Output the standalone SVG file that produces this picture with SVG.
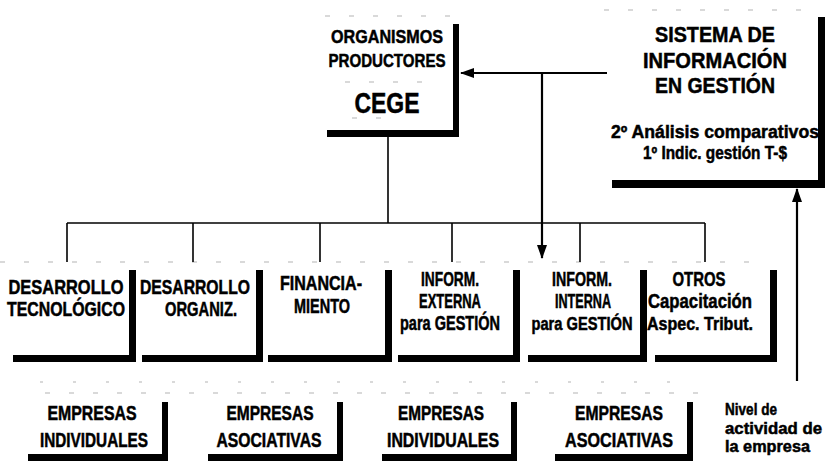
<svg xmlns="http://www.w3.org/2000/svg" width="830" height="461" viewBox="0 0 830 461">
<style>
text{font-family:"Liberation Sans",Arial,sans-serif;font-weight:bold;fill:#000;stroke:#000;stroke-width:0.5;text-anchor:middle}
.l{text-anchor:start}
.bar{fill:#000}
.ln{stroke:#000;stroke-width:1.6;fill:none}
.arr{stroke:#000;stroke-width:2.2;fill:none}
.faint{stroke:#b4b4b4;stroke-width:1.2;stroke-dasharray:5 19;fill:none}
.s19{font-size:19px}
.s30{font-size:29px}
.s25{font-size:22.5px}
.s18{font-size:18px}
.s21{font-size:19.5px}
.s16{font-size:16.5px}
</style>
<defs>
<marker id="ah" viewBox="0 0 14 10" refX="13" refY="5" markerWidth="14" markerHeight="10" orient="auto" markerUnits="userSpaceOnUse">
<path d="M0,0 L14,5 L0,10 z" fill="#000"/>
</marker>
</defs>
<rect width="830" height="461" fill="#fff"/>

<g id="faint-edges">
<line class="faint" x1="325" y1="16" x2="452" y2="16"/>
<line class="faint" x1="345" y1="82" x2="422" y2="82"/>
<line class="faint" x1="352" y1="118" x2="382" y2="118"/>
<line class="faint" x1="604" y1="10" x2="818" y2="10"/>
<line class="faint" x1="0" y1="262" x2="760" y2="262"/>
<line class="faint" x1="40" y1="382" x2="700" y2="382" style="stroke-dasharray:3 30"/>
<line class="faint" x1="45" y1="393" x2="700" y2="393"/>
</g>

<g id="connectors">
<line class="ln" x1="388" y1="137" x2="388" y2="223"/>
<line class="ln" x1="67" y1="223" x2="705" y2="223"/>
<line class="ln" x1="67" y1="223" x2="67" y2="262"/>
<line class="ln" x1="193" y1="223" x2="193" y2="262"/>
<line class="ln" x1="320" y1="223" x2="320" y2="262"/>
<line class="ln" x1="452" y1="223" x2="452" y2="262"/>
<line class="ln" x1="580" y1="223" x2="580" y2="262"/>
<line class="ln" x1="705" y1="223" x2="705" y2="262"/>
<line class="arr" x1="607" y1="73" x2="461" y2="73" marker-end="url(#ah)"/>
<line class="arr" x1="542" y1="73" x2="542" y2="258" marker-end="url(#ah)"/>
<line class="arr" x1="797" y1="381" x2="797" y2="189" marker-end="url(#ah)"/>
</g>

<g id="organismos">
<rect class="bar" x="453" y="24" width="6" height="113"/>
<rect class="bar" x="327" y="130" width="132" height="7"/>
<text class="s19" x="387" y="43" textLength="112" lengthAdjust="spacingAndGlyphs">ORGANISMOS</text>
<text class="s19" x="387" y="67" textLength="117" lengthAdjust="spacingAndGlyphs">PRODUCTORES</text>
<text class="s30" x="387" y="113" textLength="65" lengthAdjust="spacingAndGlyphs">CEGE</text>
</g>

<g id="sig">
<rect class="bar" x="818" y="17" width="7" height="171"/>
<rect class="bar" x="612" y="180" width="213" height="8"/>
<text class="s25" x="715" y="42" textLength="120" lengthAdjust="spacingAndGlyphs">SISTEMA DE</text>
<text class="s25" x="715" y="67.5" textLength="144" lengthAdjust="spacingAndGlyphs">INFORMACIÓN</text>
<text class="s25" x="715" y="93" textLength="120" lengthAdjust="spacingAndGlyphs">EN GESTIÓN</text>
<text class="s18" x="715" y="138" textLength="208" lengthAdjust="spacingAndGlyphs">2º Análisis comparativos</text>
<text class="s18" x="715" y="159" textLength="144" lengthAdjust="spacingAndGlyphs">1º Indic. gestión T-$</text>
</g>

<g id="des-tec">
<rect class="bar" x="129" y="270" width="7" height="92"/>
<rect class="bar" x="13" y="355" width="123" height="7"/>
<text class="s21" x="66" y="294" textLength="115" lengthAdjust="spacingAndGlyphs">DESARROLLO</text>
<text class="s21" x="66" y="316" textLength="118" lengthAdjust="spacingAndGlyphs">TECNOLÓGICO</text>
</g>

<g id="des-org">
<rect class="bar" x="256" y="270" width="7" height="92"/>
<rect class="bar" x="142" y="355" width="121" height="7"/>
<text class="s21" x="195" y="294" textLength="110" lengthAdjust="spacingAndGlyphs">DESARROLLO</text>
<text class="s21" x="201" y="316" textLength="72" lengthAdjust="spacingAndGlyphs">ORGANIZ.</text>
</g>

<g id="financiamiento">
<rect class="bar" x="385" y="270" width="7" height="92"/>
<rect class="bar" x="268" y="355" width="124" height="7"/>
<text class="s21" x="321" y="290" textLength="82" lengthAdjust="spacingAndGlyphs">FINANCIA-</text>
<text class="s21" x="322" y="313" textLength="56" lengthAdjust="spacingAndGlyphs">MIENTO</text>
</g>

<g id="inf-externa">
<rect class="bar" x="513" y="270" width="7" height="92"/>
<rect class="bar" x="398" y="355" width="122" height="7"/>
<text class="s21" x="450" y="286" textLength="58" lengthAdjust="spacingAndGlyphs">INFORM.</text>
<text class="s21" x="450" y="308" textLength="62" lengthAdjust="spacingAndGlyphs">EXTERNA</text>
<text class="s21" x="450" y="330" textLength="100" lengthAdjust="spacingAndGlyphs">para GESTIÓN</text>
</g>

<g id="inf-interna">
<rect class="bar" x="640" y="270" width="7" height="92"/>
<rect class="bar" x="528" y="355" width="119" height="7"/>
<text class="s21" x="582" y="286" textLength="60" lengthAdjust="spacingAndGlyphs">INFORM.</text>
<text class="s21" x="583" y="308" textLength="56" lengthAdjust="spacingAndGlyphs">INTERNA</text>
<text class="s18" x="582" y="330" textLength="101" lengthAdjust="spacingAndGlyphs">para GESTIÓN</text>
</g>

<g id="otros">
<rect class="bar" x="770" y="270" width="7" height="92"/>
<rect class="bar" x="655" y="355" width="122" height="7"/>
<text class="s21" x="699" y="286" textLength="53" lengthAdjust="spacingAndGlyphs">OTROS</text>
<text class="s21" x="700" y="308" textLength="104" lengthAdjust="spacingAndGlyphs">Capacitación</text>
<text class="s18" x="700" y="330" textLength="106" lengthAdjust="spacingAndGlyphs">Aspec. Tribut.</text>
</g>

<g id="emp-ind-1">
<rect class="bar" x="162" y="402" width="6" height="59"/>
<rect class="bar" x="28" y="454" width="140" height="7"/>
<text class="s21" x="92" y="420" textLength="89" lengthAdjust="spacingAndGlyphs">EMPRESAS</text>
<text class="s21" x="94" y="447" textLength="108" lengthAdjust="spacingAndGlyphs">INDIVIDUALES</text>
</g>

<g id="emp-aso-1">
<rect class="bar" x="337" y="402" width="6" height="59"/>
<rect class="bar" x="208" y="454" width="135" height="7"/>
<text class="s21" x="270" y="420" textLength="87" lengthAdjust="spacingAndGlyphs">EMPRESAS</text>
<text class="s21" x="269" y="447" textLength="105" lengthAdjust="spacingAndGlyphs">ASOCIATIVAS</text>
</g>

<g id="emp-ind-2">
<rect class="bar" x="511" y="402" width="6" height="59"/>
<rect class="bar" x="382" y="454" width="135" height="7"/>
<text class="s21" x="441" y="420" textLength="86" lengthAdjust="spacingAndGlyphs">EMPRESAS</text>
<text class="s21" x="443" y="447" textLength="112" lengthAdjust="spacingAndGlyphs">INDIVIDUALES</text>
</g>

<g id="emp-aso-2">
<rect class="bar" x="687" y="402" width="6" height="59"/>
<rect class="bar" x="555" y="454" width="138" height="7"/>
<text class="s21" x="619" y="420" textLength="88" lengthAdjust="spacingAndGlyphs">EMPRESAS</text>
<text class="s21" x="619" y="447" textLength="108" lengthAdjust="spacingAndGlyphs">ASOCIATIVAS</text>
</g>

<g id="nivel">
<text class="s16 l" x="725" y="415" textLength="52" lengthAdjust="spacingAndGlyphs">Nivel de</text>
<text class="s16 l" x="725" y="433.5" textLength="97" lengthAdjust="spacingAndGlyphs">actividad de</text>
<text class="s16 l" x="725" y="452" textLength="85" lengthAdjust="spacingAndGlyphs">la empresa</text>
</g>
</svg>
